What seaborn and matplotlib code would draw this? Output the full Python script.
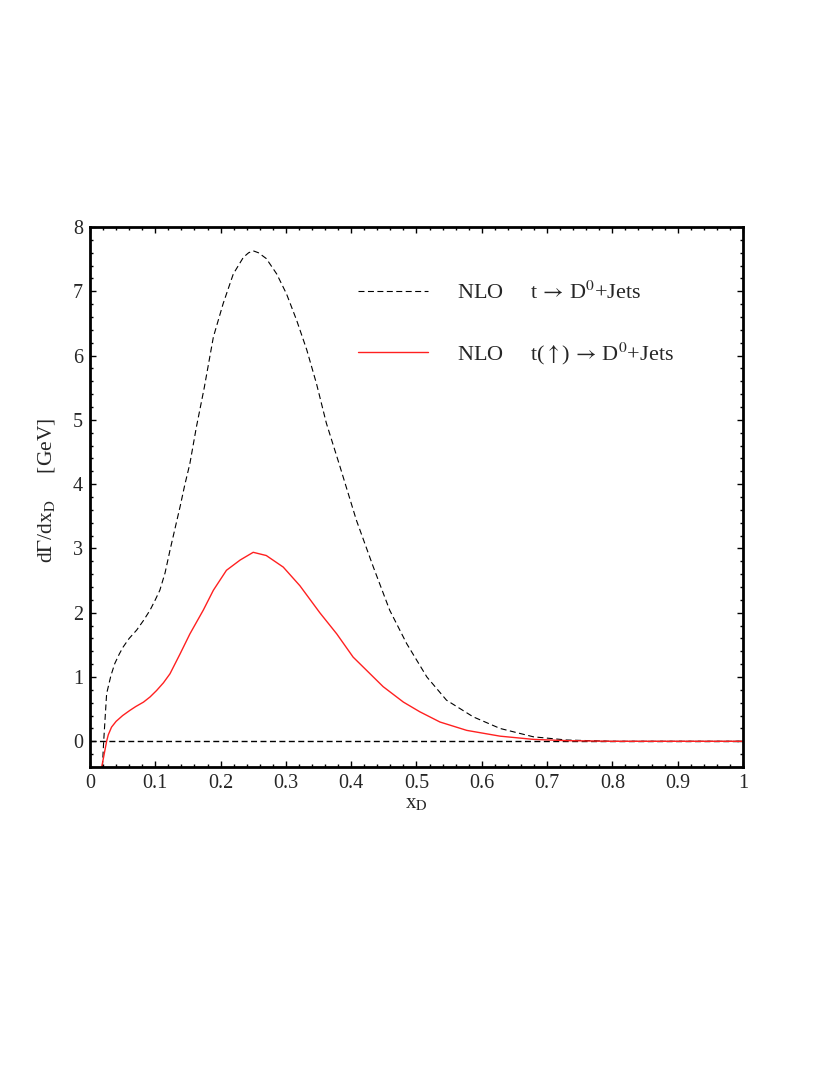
import numpy as np
import pandas as pd
import seaborn as sns
import matplotlib.pyplot as plt
from matplotlib.ticker import MultipleLocator

# values
x_unpol = [0.019, 0.021, 0.0255, 0.032, 0.038, 0.045, 0.051, 0.06, 0.0715, 0.082, 0.092,
           0.1, 0.107, 0.115, 0.1225, 0.13, 0.138, 0.145, 0.153, 0.163, 0.175, 0.189,
           0.204, 0.2195, 0.235, 0.243, 0.25, 0.258, 0.27, 0.286, 0.301, 0.3165, 0.332,
           0.347, 0.362, 0.383, 0.408, 0.434, 0.459, 0.485, 0.516, 0.546, 0.587, 0.628,
           0.679, 0.73, 0.8, 0.9, 1.0]
y_unpol = [-0.4, 0.0, 0.74, 1.02, 1.21, 1.36, 1.47, 1.6, 1.73, 1.88, 2.04,
           2.2, 2.35, 2.62, 2.97, 3.3, 3.65, 3.98, 4.32, 4.89, 5.5, 6.29,
           6.81, 7.27, 7.53, 7.6, 7.63, 7.6, 7.51, 7.27, 6.96, 6.55, 6.09,
           5.56, 4.95, 4.27, 3.44, 2.71, 2.04, 1.52, 1.0, 0.64, 0.38, 0.2,
           0.07, 0.02, 0.0, 0.0, 0.0]

x_pol = [0.018, 0.0255, 0.028, 0.033, 0.04, 0.05, 0.061, 0.07, 0.082, 0.092, 0.102,
         0.1125, 0.1225, 0.13, 0.138, 0.153, 0.1735, 0.189, 0.209, 0.23, 0.25, 0.27,
         0.296, 0.3215, 0.352, 0.378, 0.403, 0.429, 0.449, 0.48, 0.505, 0.536, 0.577,
         0.628, 0.679, 0.73, 0.8, 0.9, 1.0]
y_pol = [-0.4, 0.0, 0.1, 0.22, 0.31, 0.4, 0.48, 0.54, 0.61, 0.69, 0.79,
         0.91, 1.05, 1.2, 1.36, 1.67, 2.04, 2.35, 2.66, 2.82, 2.94, 2.89,
         2.71, 2.42, 2.0, 1.67, 1.31, 1.05, 0.85, 0.61, 0.46, 0.3, 0.17,
         0.08, 0.03, 0.01, 0.0, 0.0, 0.0]

x_ticklabels = ["0", "0.1", "0.2", "0.3", "0.4", "0.5", "0.6", "0.7", "0.8", "0.9", "1"]

label_unpol = r"NLO     t$\,\rightarrow\,$D$^0$+Jets"
label_pol = r"NLO     t($\uparrow$)$\,\rightarrow\,$D$^0$+Jets"

df_unpol = pd.DataFrame({"x": x_unpol, "y": y_unpol})
df_pol = pd.DataFrame({"x": x_pol, "y": y_pol})

sns.set_style("ticks")
plt.rcParams['font.family'] = ['Liberation Serif', 'DejaVu Serif']
plt.rcParams['mathtext.fontset'] = 'stix'
plt.rcParams['lines.scale_dashes'] = False

fig = plt.figure(figsize=(8.3, 10.75), dpi=100)
ax = fig.add_axes([0.1084, 0.2865, 0.7867, 0.5023])

dash = (0, (4.3, 2.5))
ax.axhline(0, color='black', lw=1.0, ls=dash, zorder=1)
sns.lineplot(data=df_unpol, x="x", y="y", ax=ax, color='black', lw=0.8,
             linestyle=dash, label=label_unpol, sort=False)
sns.lineplot(data=df_pol, x="x", y="y", ax=ax, color='#ff2020', lw=1.0,
             label=label_pol, sort=False)

ax.set_xlim(0, 1)
ax.set_ylim(-0.4, 8)
ax.xaxis.set_minor_locator(MultipleLocator(0.02))
ax.yaxis.set_major_locator(MultipleLocator(1))
ax.yaxis.set_minor_locator(MultipleLocator(0.2))
ax.set_xticks(np.arange(0, 1.01, 0.1))
ax.set_xticklabels(x_ticklabels)
ax.tick_params(which='both', direction='in', top=True, right=True, labelsize=14.5,
               width=1.0, color='black')
ax.tick_params(axis='x', pad=5)
ax.tick_params(axis='y', pad=5)
ax.tick_params(which='major', length=4)
ax.tick_params(which='minor', length=2)
for s in ax.spines.values():
    s.set_linewidth(2.0)
    s.set_color('black')

ax.set_xlabel(r"x$_\mathrm{D}$", fontsize=15, labelpad=1)
ax.set_ylabel(r"d$\Gamma$/dx$_\mathrm{D}$     [GeV]", fontsize=15.5)
ax.yaxis.set_label_coords(-0.05, 0.513)

ax.legend(loc='upper left', bbox_to_anchor=(0.41, 0.899), frameon=False,
          fontsize=16, handlelength=3.15, handletextpad=1.3, labelspacing=1.65,
          borderpad=0, borderaxespad=0)

fig.savefig("out.png", dpi=100)
